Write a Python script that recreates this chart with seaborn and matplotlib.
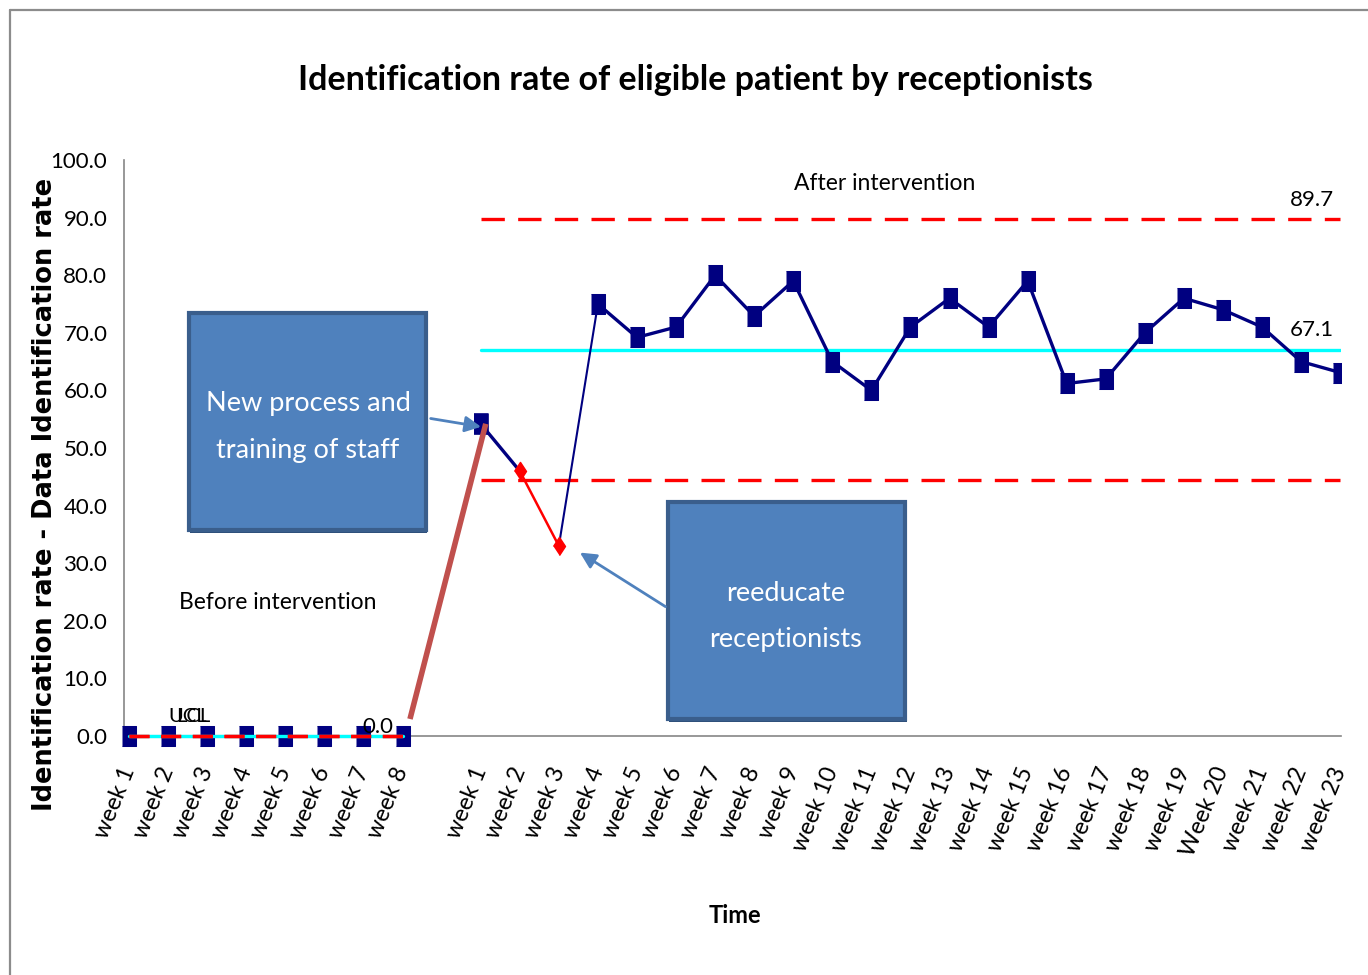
import matplotlib
matplotlib.use("Agg")
import matplotlib.pyplot as plt
import matplotlib.transforms as mtransforms
import seaborn as sns
import numpy as np
import pandas as pd
from matplotlib.patches import Rectangle

# ---------------- data ----------------
before_labels = ["week 1", "week 2", "week 3", "week 4", "week 5", "week 6", "week 7", "week 8"]
after_labels = ["week 1", "week 2", "week 3", "week 4", "week 5", "week 6", "week 7", "week 8",
                "week 9", "week 10", "week 11", "week 12", "week 13", "week 14", "week 15",
                "week 16", "week 17", "week 18", "week 19", "Week 20", "week 21", "week 22", "week 23"]
before_values = [0.0, 0.0, 0.0, 0.0, 0.0, 0.0, 0.0, 0.0]
after_values = [54.2, 46.0, 33.0, 75.0, 69.2, 71.0, 80.0, 72.9, 79.0, 65.0, 60.0, 71.0,
                76.0, 71.0, 79.0, 61.2, 62.0, 70.0, 76.0, 74.0, 71.0, 65.0, 63.1]
before_ucl, before_cl, before_lcl = 0.0, 0.0, 0.0
after_ucl, after_cl, after_lcl = 89.7, 67.1, 44.5

categories = before_labels + [""] + after_labels
x_before = np.arange(len(before_labels))
x_after = np.arange(len(after_labels)) + len(before_labels) + 1
df_before = pd.DataFrame({"x": x_before, "rate": before_values})
df_after = pd.DataFrame({"x": x_after, "rate": after_values})

# ---------------- style ----------------
sns.set_theme(style="white")
plt.rcParams["font.family"] = ["Lato", "DejaVu Sans"]
for k in ["text.color", "axes.labelcolor", "xtick.color", "ytick.color"]:
    plt.rcParams[k] = "black"

NAVY = "#000080"
RED = "#FF0000"
CYAN = "#00FFFF"
BOXBLUE = "#4F81BD"
BOXEDGE = "#3A5E8C"
GRAY = "#868686"

fig = plt.figure(figsize=(13.68, 9.75), dpi=100)
ax = fig.add_axes([124 / 1368, 1 - 736 / 975, 1217 / 1368, 576 / 975])

sq = [(-0.35, -0.5), (0.35, -0.5), (0.35, 0.5), (-0.35, 0.5)]
dia = [(0, -0.5), (0.33, 0), (0, 0.5), (-0.33, 0)]

# control lines, before (drawn over the markers)
xb = [x_before[0], x_before[-1]]
ax.plot(xb, [before_cl] * 2, color=CYAN, lw=2.4, zorder=6, clip_on=False)
ax.plot(xb, [before_ucl] * 2, color=RED, lw=2.4, dashes=(6, 3.5), zorder=7, clip_on=False)
ax.plot(xb, [before_lcl] * 2, color=RED, lw=2.4, dashes=(6, 3.5), zorder=7, clip_on=False)
# control lines, after
xa = [x_after[0], x_after[-1]]
ax.plot(xa, [after_cl] * 2, color=CYAN, lw=2.4, zorder=2)
ax.plot(xa, [after_ucl] * 2, color=RED, lw=2.4, dashes=(7, 4), zorder=2)
ax.plot(xa, [after_lcl] * 2, color=RED, lw=2.4, dashes=(7, 4), zorder=2)

# before data
sns.lineplot(data=df_before, x="x", y="rate", ax=ax, color=NAVY, lw=2.2, marker=sq,
             markersize=15, markeredgecolor=NAVY, zorder=5, clip_on=False)

# after data segments
seg1 = df_after.iloc[0:2]
seg2 = df_after.iloc[1:3]
seg3 = df_after.iloc[2:4]
seg4 = df_after.iloc[3:]
sns.lineplot(data=seg1, x="x", y="rate", ax=ax, color=NAVY, lw=2.4, zorder=5)
sns.lineplot(data=seg2, x="x", y="rate", ax=ax, color=RED, lw=1.8, zorder=5)
sns.lineplot(data=seg3, x="x", y="rate", ax=ax, color=NAVY, lw=1.5, zorder=5)
sns.lineplot(data=seg4, x="x", y="rate", ax=ax, color=NAVY, lw=2.4, marker=sq,
             markersize=15, markeredgecolor=NAVY, zorder=5)
sns.scatterplot(x=seg1["x"].iloc[:1], y=seg1["rate"].iloc[:1], ax=ax, color=NAVY,
                marker=sq, s=225, edgecolor=NAVY, zorder=6)
sns.scatterplot(x=seg2["x"], y=seg2["rate"], ax=ax, color=RED, marker=dia, s=170,
                edgecolor=RED, zorder=6)

# axes formatting
ax.set_xlim(-0.13, x_after[-1] + 0.02)
ax.set_ylim(0, 100)
ax.set_yticks(np.arange(0, 101, 10))
ax.set_yticklabels([f"{v:.1f}" for v in np.arange(0, 101, 10)], fontsize=16)
ax.set_xticks(np.arange(len(categories)))
ax.set_xticklabels(categories, rotation=68, ha="right", va="center", rotation_mode="anchor",
                   fontsize=17)
shift = mtransforms.ScaledTranslation(-20 / 100, 0, fig.dpi_scale_trans)
for lab in ax.get_xticklabels():
    lab.set_transform(lab.get_transform() + shift)
for s in ["top", "right"]:
    ax.spines[s].set_visible(False)
for s in ["left", "bottom"]:
    ax.spines[s].set_color(GRAY)
    ax.spines[s].set_linewidth(1.2)
ax.tick_params(axis="y", direction="out", length=6, color=GRAY, width=1.2, pad=6,
               labelcolor="black")
ax.tick_params(axis="x", direction="out", length=8, color=GRAY, width=1.2, pad=15,
               labelcolor="black")
ax.grid(False)

ax.set_ylabel("Identification rate - Data Identification rate", family="DejaVu Sans",
              fontweight="bold", fontsize=18.5)
ax.yaxis.set_label_coords(-0.054, 0.42)
ax.set_xlabel("Time", fontweight="bold", fontsize=17)
ax.xaxis.set_label_coords(0.502, -0.311)
ax.xaxis.label.set_va("center")

fig.text(0.508, 1 - 80 / 975, "Identification rate of eligible patient by receptionists",
         ha="center", va="center", fontsize=24.5, fontweight="bold")

# annotations
ax.text(19.33, 96.0, "After intervention", ha="center", va="center", fontsize=16.5)
ax.text(3.81, 23.1, "Before intervention", ha="center", va="center", fontsize=16.5)
ax.text(30.85, 93.1, "89.7", ha="right", va="center", fontsize=16)
ax.text(30.85, 70.5, "67.1", ha="right", va="center", fontsize=16)
ax.text(1.0, 3.4, "UCL", ha="left", va="center", fontsize=14.5, zorder=8)
ax.text(1.2, 3.4, "LCL", ha="left", va="center", fontsize=14.5, zorder=8)
ax.text(5.96, 1.6, "0.0", ha="left", va="center", fontsize=16, zorder=8)

# red connector
ax.plot([7.19, 9.13], [2.95, 54.2], color="#C0504D", lw=4, zorder=7, solid_capstyle="butt")

# boxes
def box(x0, x1, y0, y1, lines, ys, xc):
    ax.add_patch(Rectangle((x0 + 0.03, y0 - 0.6), x1 - x0, y1 - y0, facecolor="#2F4F7A",
                           edgecolor="none", zorder=7))
    ax.add_patch(Rectangle((x0, y0), x1 - x0, y1 - y0, facecolor=BOXBLUE,
                           edgecolor=BOXEDGE, lw=3, zorder=8))
    for t, yy in zip(lines, ys):
        ax.text(xc, yy, t, color="white", ha="center", va="center", fontsize=19.5, zorder=9)

box(1.53, 7.6, 35.8, 73.4, ["New process and", "training of staff"], [57.8, 49.5], 4.58)
box(13.79, 19.87, 2.95, 40.6, ["reeducate", "receptionists"], [24.8, 16.7], 16.8)

arrow_kw = dict(arrowstyle="-|>,head_length=0.8,head_width=0.4", color=BOXBLUE, lw=2)
ax.annotate("", xy=(9.08, 53.6), xytext=(7.65, 55.2), arrowprops=arrow_kw, zorder=9)
ax.annotate("", xy=(11.48, 32.1), xytext=(13.79, 22.2), arrowprops=arrow_kw, zorder=9)

# outer frame
fig.add_artist(plt.Line2D([10 / 1368, 10 / 1368], [0, 1 - 10 / 975], color="#8C8C8C", lw=1.6))
fig.add_artist(plt.Line2D([10 / 1368, 1], [1 - 10 / 975, 1 - 10 / 975], color="#8C8C8C", lw=1.6))

fig.savefig("out.png", dpi=100)
